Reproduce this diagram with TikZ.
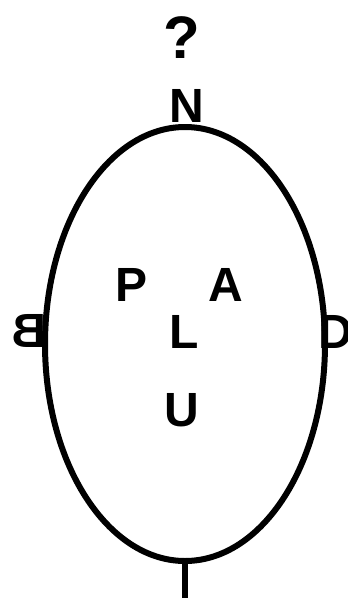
\documentclass[tikz,border=0pt]{standalone}
\usepackage{fontspec}
\usepackage{graphicx}
\usetikzlibrary{shapes.geometric}
\setmainfont{Liberation Sans}
\begin{document}
\begin{tikzpicture}[x=1pt,y=-1pt,
  lab/.style={inner sep=0pt, font=\bfseries\fontsize{48}{48}\selectfont},
  rim/.style={line width=6pt}]
\useasboundingbox (0,0) rectangle (348,598);
\node[ellipse, draw, rim, minimum width=280pt, minimum height=434pt, inner sep=0pt] (E) at (185,344) {};
\coordinate (Ebot) at (E.south);
\coordinate (Eend) at (185,600);
\draw[rim] (Ebot) -- (Eend);
\node[lab, font=\bfseries\fontsize{60}{60}\selectfont] (Q) at (182,38) {?};
\node[lab] (N) at (187,106) {N};
\node[lab] (P) at (132,285) {P};
\node[lab] (A) at (226,285) {A};
\node[lab] (L) at (184,332) {L};
\node[lab] (U) at (182,410) {U};
\node[lab, anchor=east] (B) at (47,331) {\reflectbox{B}};
\node[lab, anchor=west] (D) at (318,332) {D};
\end{tikzpicture}
\end{document}
